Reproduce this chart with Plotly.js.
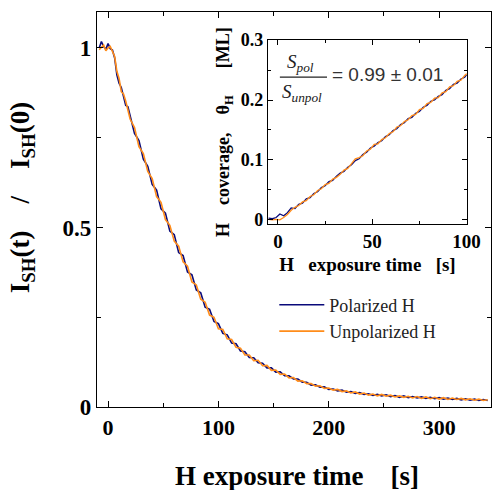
<!DOCTYPE html>
<html>
<head>
<meta charset="utf-8">
<script src="https://cdn.plot.ly/plotly-3.0.1.min.js"></script>
<style>html,body{margin:0;padding:0;background:#fff;}#chart{width:492px;height:490px;}</style>
</head>
<body>
<div id="chart"></div>
<script>
// Main decay curves: I_SH(t)/I_SH(0)
const mainTime = [-8,-6,-4,-2,0,2,4,6,8,10,12,14,16,18,20,24,28,32,36,40,44,48,52,56,60,64,68,72,76,80,84,88,92,96,100,104,108,112,116,120,124,128,132,136,140,144,148,152,156,160,164,168,172,176,180,184,188,192,196,200,204,208,212,216,220,224,228,232,236,240,244,248,252,256,260,264,268,272,276,280,284,288,292,296,300,304,308,312,316,320,324,328,332,336,340,344];
const mainPolarized = [1.000,1.018,1.004,0.996,1.012,0.998,0.994,0.972,0.925,0.902,0.890,0.866,0.840,0.836,0.812,0.762,0.742,0.690,0.670,0.620,0.604,0.552,0.540,0.490,0.480,0.430,0.422,0.376,0.368,0.326,0.318,0.278,0.272,0.238,0.232,0.205,0.201,0.178,0.176,0.156,0.154,0.138,0.137,0.123,0.122,0.109,0.109,0.097,0.098,0.087,0.087,0.078,0.078,0.069,0.069,0.061,0.062,0.055,0.056,0.049,0.050,0.045,0.047,0.041,0.043,0.038,0.040,0.035,0.037,0.032,0.035,0.031,0.034,0.029,0.032,0.027,0.031,0.026,0.029,0.025,0.028,0.024,0.027,0.023,0.026,0.022,0.025,0.021,0.024,0.020,0.023,0.019,0.022,0.018,0.021,0.018,0.019];
const mainUnpolarized = [0.995,1.002,1.008,0.992,1.000,1.004,0.990,0.976,0.935,0.915,0.878,0.872,0.852,0.826,0.802,0.778,0.725,0.706,0.656,0.636,0.586,0.570,0.522,0.506,0.462,0.448,0.404,0.392,0.348,0.340,0.300,0.292,0.256,0.250,0.218,0.216,0.190,0.188,0.166,0.164,0.145,0.145,0.129,0.130,0.115,0.116,0.102,0.103,0.091,0.092,0.081,0.082,0.072,0.073,0.065,0.065,0.058,0.059,0.052,0.053,0.047,0.049,0.043,0.045,0.039,0.042,0.036,0.039,0.033,0.036,0.031,0.035,0.030,0.033,0.028,0.031,0.027,0.030,0.025,0.029,0.024,0.028,0.023,0.027,0.022,0.026,0.021,0.025,0.021,0.024,0.020,0.023,0.019,0.022,0.018,0.020,0.019];

// Inset: H coverage
const insetTime = [-5,-3,-1,1,3,5,7,9,11,13,15,17,19,21,23,25,27,29,31,33,35,37,39,41,43,45,47,49,51,53,55,57,59,61,63,65,67,69,71,73,75,77,79,81,83,85,87,89,91,93,95,97,99,100];
const insetPolarized = [0.003,0.002,0.004,0.010,0.007,0.012,0.020,0.019,0.026,0.028,0.035,0.037,0.044,0.047,0.054,0.057,0.064,0.066,0.073,0.078,0.081,0.088,0.092,0.099,0.102,0.109,0.113,0.120,0.123,0.129,0.132,0.139,0.142,0.149,0.152,0.159,0.162,0.169,0.171,0.178,0.181,0.188,0.191,0.198,0.200,0.206,0.209,0.216,0.219,0.226,0.228,0.235,0.238,0.242];
const insetUnpolarized = [0.001,0.000,0.001,0.000,0.004,0.009,0.016,0.021,0.024,0.030,0.032,0.039,0.042,0.049,0.052,0.059,0.061,0.068,0.071,0.076,0.083,0.086,0.094,0.102,0.104,0.107,0.115,0.118,0.126,0.127,0.134,0.137,0.144,0.147,0.155,0.157,0.164,0.167,0.174,0.176,0.184,0.186,0.194,0.196,0.203,0.204,0.212,0.214,0.222,0.224,0.231,0.233,0.241,0.244];

const seriesNames = ['Polarized H', 'Unpolarized H'];
const navy = '#0a0a7a';
const orange = '#ff8c1a';
const serif = 'Liberation Serif, Times New Roman, serif';
const nb = '\u00a0';

const traces = [
  {x: mainTime, y: mainPolarized, name: seriesNames[0], type: 'scatter', mode: 'lines',
   line: {color: navy, width: 1.6}, xaxis: 'x', yaxis: 'y'},
  {x: mainTime, y: mainUnpolarized, name: seriesNames[1], type: 'scatter', mode: 'lines',
   line: {color: orange, width: 1.6}, xaxis: 'x', yaxis: 'y'},
  {x: insetTime, y: insetPolarized, name: seriesNames[0], type: 'scatter', mode: 'lines',
   line: {color: navy, width: 1.3}, xaxis: 'x2', yaxis: 'y2', showlegend: false},
  {x: insetTime, y: insetUnpolarized, name: seriesNames[1], type: 'scatter', mode: 'lines',
   line: {color: orange, width: 1.3}, xaxis: 'x2', yaxis: 'y2', showlegend: false}
];

const axCommon = {showline: true, linecolor: '#000', linewidth: 1.2, mirror: 'ticks',
  ticks: 'inside', ticklen: 6, tickcolor: '#000', tickwidth: 1, zeroline: false, showgrid: false};

const layout = {
  width: 492, height: 490,
  margin: {l: 97, r: 1, t: 12, b: 83},
  paper_bgcolor: '#fff', plot_bgcolor: '#fff',
  font: {family: serif, color: '#000'},
  showlegend: true,
  legend: {x: 0.45, y: 0.305, xanchor: 'left', yanchor: 'top', bgcolor: 'rgba(0,0,0,0)',
    itemwidth: 45, font: {family: serif, size: 18, color: '#222'}, tracegroupgap: 0},
  xaxis: Object.assign({}, axCommon, {domain: [0, 1], range: [-10, 347], dtick: 100, tick0: 0,
    tickfont: {family: serif, size: 22, weight: 'bold'},
    minor: {dtick: 50, ticks: 'inside', ticklen: 4, tickcolor: '#000'}}),
  yaxis: Object.assign({}, axCommon, {domain: [0, 1], range: [0, 1.1], dtick: 0.5, tick0: 0,
    tickfont: {family: serif, size: 23, weight: 'bold'},
    minor: {dtick: 0.25, ticks: 'inside', ticklen: 4, tickcolor: '#000'}}),
  xaxis2: Object.assign({}, axCommon, {domain: [0.434, 0.939], anchor: 'y2', range: [-5.3, 100.2], dtick: 50, tick0: 0,
    ticklen: 5, tickfont: {family: serif, size: 19, weight: 'bold'},
    minor: {dtick: 25, ticks: 'inside', ticklen: 3, tickcolor: '#000'},
    title: {text: 'H' + nb + nb + ' exposure time' + nb + nb + ' [s]', font: {family: serif, size: 19, weight: 'bold'}, standoff: 6}}),
  yaxis2: Object.assign({}, axCommon, {domain: [0.463, 0.929], anchor: 'x2', range: [-0.007, 0.3], dtick: 0.1, tick0: 0,
    ticklen: 5, tickfont: {family: serif, size: 18, weight: 'bold'},
    minor: {dtick: 0.05, ticks: 'inside', ticklen: 3, tickcolor: '#000'},
    title: {text: 'H' + nb + nb + nb + ' coverage,' + nb + nb + nb + ' θ<sub>H</sub>' + nb + nb + nb + nb + nb + ' [ML]', font: {family: serif, size: 18, weight: 'bold'}, standoff: 6}}),
  shapes: [
    {type: 'line', xref: 'x2', yref: 'y2', x0: 1.0, x1: 26, y0: 0.238, y1: 0.238, line: {color: '#222', width: 1.2}}
  ],
  annotations: [
    {xref: 'paper', yref: 'paper', x: 0.508, y: -0.175, xanchor: 'center', yanchor: 'middle',
     text: '<b>H exposure time' + nb + nb + nb + ' [s]</b>',
     showarrow: false, font: {family: serif, size: 27, color: '#000'}},
    {xref: 'paper', yref: 'paper', x: -0.19, y: 0.529, xanchor: 'center', yanchor: 'middle', textangle: -90,
     text: '<b>I<sub>SH</sub>(t)' + nb + nb + nb + ' /' + nb + nb + nb + ' I<sub>SH</sub>(0)</b>',
     showarrow: false, font: {family: serif, size: 27, color: '#000'}},
    {xref: 'x2', yref: 'y2', x: 12.2, y: 0.262, text: '<i>S<sub>pol</sub></i>', showarrow: false,
     font: {family: serif, size: 19, color: '#222'}},
    {xref: 'x2', yref: 'y2', x: 12.8, y: 0.212, text: '<i>S<sub>unpol</sub></i>', showarrow: false,
     font: {family: serif, size: 19, color: '#222'}},
    {xref: 'x2', yref: 'y2', x: 27.5, y: 0.243, xanchor: 'left', text: '= 0.99 ± 0.01', showarrow: false,
     font: {family: 'Liberation Sans, Arial, sans-serif', size: 19, color: '#333'}}
  ]
};

Plotly.newPlot('chart', traces, layout, {displayModeBar: false, staticPlot: true});
</script>
</body>
</html>
